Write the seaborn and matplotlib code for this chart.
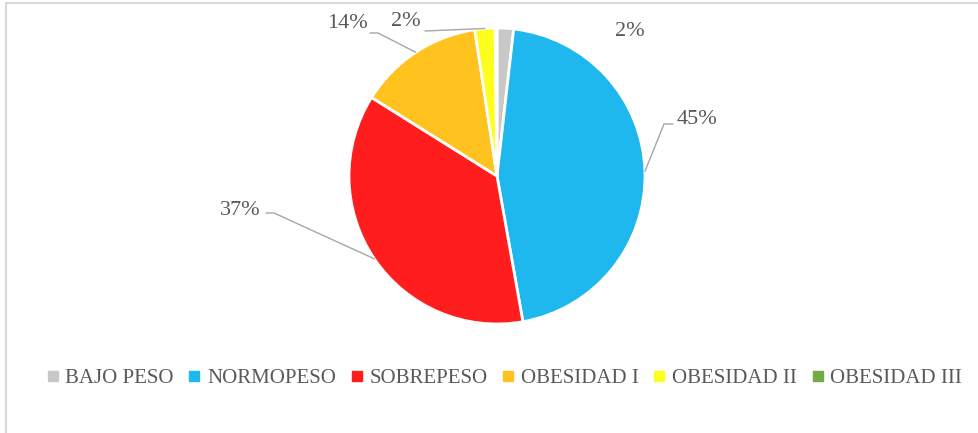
import matplotlib
matplotlib.use("Agg")
import matplotlib.pyplot as plt
import seaborn as sns
from matplotlib.lines import Line2D
from matplotlib.patches import Rectangle
import numpy as np

# data
categories = ["BAJO PESO", "NORMOPESO", "SOBREPESO", "OBESIDAD I", "OBESIDAD II", "OBESIDAD III"]
values = [1.8, 45.4, 36.7, 13.7, 2.2, 0.2]
pct_labels = ["2%", "45%", "37%", "14%", "2%", ""]
colors = ["#C8C8C8", "#1EB8EE", "#FF1D1D", "#FFC21E", "#FFFF1E", "#70AD47"]

sns.set_theme(style="white")
plt.rcParams["font.family"] = ["Liberation Serif", "DejaVu Serif"]

W, H = 979, 433
fig = plt.figure(figsize=(W / 100, H / 100), dpi=100)
ax = fig.add_axes([0, 0, 1, 1])
ax.set_xlim(0, W)
ax.set_ylim(0, H)
ax.set_aspect("equal")
ax.axis("off")

# light frame (chart area border), only top/left visible in the crop
fig.patches.append(Rectangle((6 / W, -0.1), 1.2, (H - 3) / H + 0.1, transform=fig.transFigure,
                             fill=False, edgecolor="#D9D9D9", linewidth=1.5))

cx, cy, r = 497, H - 176, 148
wedges, _ = ax.pie(values, colors=colors, startangle=90, counterclock=False,
                   center=(cx, cy), radius=r, frame=True,
                   wedgeprops=dict(edgecolor="white", linewidth=2))
ax.set_xlim(0, W)
ax.set_ylim(0, H)
ax.axis("off")

# label positions (pixels, y down) and leader-line elbows
label_pos = {
    0: ((630, 31), None),
    1: ((697, 120), [(673, 124), (664, 124)]),
    2: ((240, 211), [(266, 213), (274, 213)]),
    3: ((347, 24), [(370, 33), (378, 33)]),
    4: ((406, 21), [(425, 31)]),
}
txt_color = "#595959"
for i, ((tx, ty), elbow) in label_pos.items():
    ax.text(tx, H - ty, pct_labels[i], ha="center", va="center", fontsize=16, color=txt_color)
    if elbow:
        w = wedges[i]
        mid = np.deg2rad((w.theta1 + w.theta2) / 2)
        ax_, ay_ = cx + r * np.cos(mid), cy + r * np.sin(mid)
        xs = [p[0] for p in elbow] + [ax_]
        ys = [H - p[1] for p in elbow] + [ay_]
        ax.plot(xs, ys, color="#A6A6A6", linewidth=1)

handles = [Line2D([0], [0], marker="s", linestyle="", markersize=7,
                  markerfacecolor=c, markeredgecolor=c) for c in colors]
fig.legend(handles, categories, loc="center", bbox_to_anchor=(0.515, 1 - 378 / H),
           ncol=6, frameon=False, fontsize=15, handlelength=0.6, handletextpad=0.3,
           columnspacing=0.7, labelcolor=txt_color)

fig.savefig("out.png", dpi=100)
